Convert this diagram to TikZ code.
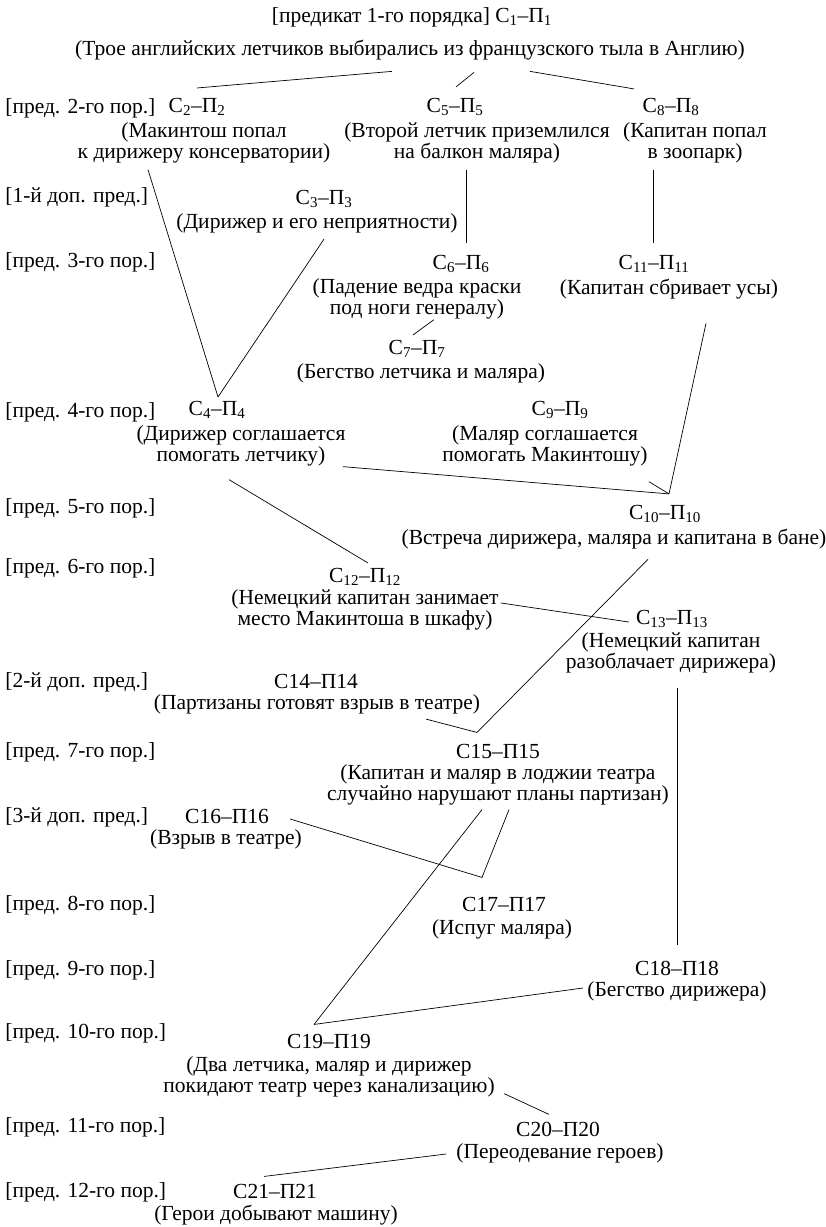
\documentclass[tikz,border=0pt]{standalone}
\usepackage{fontspec}
\setmainfont{Liberation Serif}
\usepackage{tikz}

\newcommand{\evlab}[1]{С\textsubscript{#1}–П\textsubscript{#1}}

\begin{document}
\begin{tikzpicture}[
	x=1pt, y=-1pt,
	line width=0.7pt,
	font=\fontsize{21.5}{21}\selectfont
]
\tikzset{
    lvl/.style = {anchor=west, inner sep=0pt},
    evt/.style = {inner sep=0pt},
    desc/.style = {align=center, inner sep=0pt}
}
\useasboundingbox (0,0) rectangle (826,1227);

\node[evt] (c1) at (412,17) {[предикат 1-го порядка] \evlab{1}};
\node[desc] (d1) at (410,50) {(Трое английских летчиков выбирались из французского тыла в Англию)};

\node[lvl] (l2) at (5,108) {[пред. 2-го пор.]};
\node[evt] (c2) at (197,107) {\evlab{2}};
\node[desc] (d2) at (204,143) {(Макинтош попал\\к дирижеру консерватории)};
\node[evt] (c5) at (455,107) {\evlab{5}};
\node[desc] (d5) at (477,143) {(Второй летчик приземлился\\на балкон маляра)};
\node[evt] (c8) at (671,107) {\evlab{8}};
\node[desc] (d8) at (695,143) {(Капитан попал\\в зоопарк)};

\node[lvl] (la1) at (5,197) {[1-й доп. пред.]};
\node[evt] (c3) at (324,199) {\evlab{3}};
\node[desc] (d3) at (317,223) {(Дирижер и его неприятности)};

\node[lvl] (l3) at (5,262) {[пред. 3-го пор.]};
\node[evt] (c6) at (461,264) {\evlab{6}};
\node[desc] (d6) at (417,299) {(Падение ведра краски\\под ноги генералу)};
\node[evt] (c11) at (654,264) {\evlab{11}};
\node[desc] (d11) at (669,289) {(Капитан сбривает усы)};
\node[evt] (c7) at (417,349) {\evlab{7}};
\node[desc] (d7) at (421,373) {(Бегство летчика и маляра)};

\node[lvl] (l4) at (5,412) {[пред. 4-го пор.]};
\node[evt] (c4) at (217,410) {\evlab{4}};
\node[desc] (d4) at (241,446) {(Дирижер соглашается\\помогать летчику)};
\node[evt] (c9) at (560,410) {\evlab{9}};
\node[desc] (d9) at (545,446) {(Маляр соглашается\\помогать Макинтошу)};

\node[lvl] (l5) at (5,508) {[пред. 5-го пор.]};
\node[evt] (c10) at (665,514) {\evlab{10}};
\node[desc] (d10) at (614,539) {(Встреча дирижера, маляра и капитана в бане)};

\node[lvl] (l6) at (5,568) {[пред. 6-го пор.]};
\node[evt] (c12) at (365,577) {\evlab{12}};
\node[desc] (d12) at (365,610) {(Немецкий капитан занимает\\место Макинтоша в шкафу)};
\node[evt] (c13) at (672,619) {\evlab{13}};
\node[desc] (d13) at (671,653) {(Немецкий капитан\\разоблачает дирижера)};

\node[lvl] (la2) at (5,682) {[2-й доп. пред.]};
\node[evt] (c14) at (316,681) {С14–П14};
\node[desc] (d14) at (317,704) {(Партизаны готовят взрыв в театре)};

\node[lvl] (l7) at (5,752) {[пред. 7-го пор.]};
\node[evt] (c15) at (498,751) {С15–П15};
\node[desc] (d15) at (498,785) {(Капитан и маляр в лоджии театра\\случайно нарушают планы партизан)};

\node[lvl] (la3) at (5,817) {[3-й доп. пред.]};
\node[evt] (c16) at (227,816) {С16–П16};
\node[desc] (d16) at (226,839) {(Взрыв в театре)};

\node[lvl] (l8) at (5,905) {[пред. 8-го пор.]};
\node[evt] (c17) at (504,904) {С17–П17};
\node[desc] (d17) at (502,929) {(Испуг маляра)};

\node[lvl] (l9) at (5,970) {[пред. 9-го пор.]};
\node[evt] (c18) at (677,968) {С18–П18};
\node[desc] (d18) at (677,991) {(Бегство дирижера)};

\node[lvl] (l10) at (5,1033) {[пред. 10-го пор.]};
\node[evt] (c19) at (329,1041) {С19–П19};
\node[desc] (d19) at (329,1077) {(Два летчика, маляр и дирижер\\покидают театр через канализацию)};

\node[lvl] (l11) at (5,1127) {[пред. 11-го пор.]};
\node[evt] (c20) at (558,1129) {С20–П20};
\node[desc] (d20) at (560,1153) {(Переодевание героев)};

\node[lvl] (l12) at (5,1192) {[пред. 12-го пор.]};
\node[evt] (c21) at (275,1191) {С21–П21};
\node[desc] (d21) at (276,1215) {(Герои добывают машину)};

\draw ([xshift=-18pt,yshift=-11pt]d1.south) -- ([yshift=10pt]c2.north);
\draw ([xshift=64pt,yshift=-12pt]d1.south) -- ([xshift=1pt,yshift=11pt]c5.north);
\draw ([xshift=120pt,yshift=-11pt]d1.south) -- ([xshift=-37pt,yshift=9pt]c8.north);
\draw ([xshift=-56pt,yshift=-6pt]d2.south) -- ([xshift=1pt,yshift=4pt]c4.north);
\draw ([xshift=7pt,yshift=-6pt]d3.south) -- ([xshift=1pt,yshift=4pt]c4.north);
\draw ([xshift=-11pt,yshift=-6pt]d5.south) -- ([xshift=5pt,yshift=12pt]c6.north);
\draw ([xshift=-42pt,yshift=-6pt]d8.south) -- ([xshift=-1pt,yshift=12pt]c11.north);
\draw ([xshift=17pt]d6.south) -- ([xshift=-4pt,yshift=5pt]c7.north);
\draw ([xshift=37pt,yshift=-24pt]d11.south) -- ([xshift=4pt,yshift=11pt]c10.north);
\draw ([xshift=-3pt]d4.south east) -- ([xshift=4pt,yshift=11pt]c10.north);
\draw ([xshift=1pt,yshift=-15pt]d9.south east) -- ([xshift=4pt,yshift=11pt]c10.north);
\draw ([xshift=-12pt,yshift=-13pt]d4.south) -- ([xshift=3pt,yshift=5pt]c12.north);
\draw ([xshift=2pt,yshift=7pt]d12.east) -- ([xshift=-7pt,yshift=-3pt]c13.west);
\draw ([xshift=34pt,yshift=-10pt]d10.south) -- ([xshift=-21pt,yshift=11pt]c15.north);
\draw ([xshift=109pt,yshift=-5pt]d14.south) -- ([xshift=-21pt,yshift=11pt]c15.north);
\draw ([xshift=6pt,yshift=-14pt]d13.south) -- ([yshift=15pt]c18.north);
\draw ([xshift=21pt,yshift=-3pt]c16.east) -- ([xshift=-22pt,yshift=19pt]c17.north);
\draw ([xshift=11pt,yshift=-4pt]d15.south) -- ([xshift=-22pt,yshift=19pt]c17.north);
\draw ([xshift=-16pt,yshift=-4pt]d15.south) -- ([xshift=-15pt,yshift=9pt]c19.north);
\draw ([xshift=-4pt,yshift=3pt]d18.west) -- ([xshift=-15pt,yshift=9pt]c19.north);
\draw ([xshift=9pt,yshift=4pt]d19.south east) -- ([xshift=-9pt,yshift=7pt]c20.north);
\draw ([xshift=-10pt,yshift=-1pt]d20.west) -- ([xshift=-11pt,yshift=7pt]c21.north);
\end{tikzpicture}
\end{document}
